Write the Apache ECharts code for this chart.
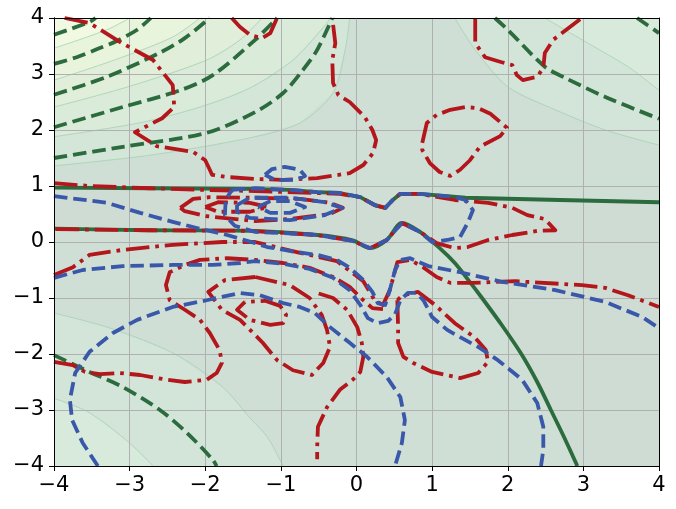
<!DOCTYPE html>
<html><head><meta charset="utf-8">
<script src="https://cdn.jsdelivr.net/npm/echarts@6/dist/echarts.min.js"></script>
<style>html,body{margin:0;padding:0;background:#fff}#c{width:676px;height:509px}</style>
</head><body><div id="c"></div>
<script>
// ---------- tick labels ----------
const xTicks = [-4,-3,-2,-1,0,1,2,3,4];
const yTicks = [-4,-3,-2,-1,0,1,2,3,4];

// ---------- green contours (solid = zero level, dashed = negative levels) ----------
const greenSolidUpper = [[-4,0.97],[-2.73,0.96],[-1.41,0.95],[-0.88,0.93],[-0.52,0.89],[-0.22,0.875],[0.05,0.80],[0.24,0.66],[0.38,0.61],[0.48,0.75],[0.58,0.86],[0.84,0.86],[1.44,0.79],[2.69,0.75],[4,0.71]];
const greenSolidLower = [[-4,0.24],[-2.73,0.21],[-1.41,0.20],[-0.52,0.125],[-0.05,0.03],[0.18,-0.11],[0.40,0.036],[0.60,0.34],[0.84,0.18],[1.10,-0.11],[1.30,-0.375],[1.48,-0.68],[1.66,-1.0],[1.93,-1.5],[2.18,-2.0],[2.39,-2.5],[2.57,-3.0],[2.75,-3.5],[2.92,-4]];
const greenDashTL1 = [[-4,3.70],[-3.53,3.93],[-3.45,4]];
const greenDashTL2 = [[-4,3.18],[-3.70,3.30],[-3.42,3.45],[-3.17,3.59],[-2.90,3.79],[-2.72,4]];
const greenDashTL3 = [[-4,2.63],[-3.30,2.95],[-2.60,3.38],[-2.27,3.64],[-1.94,4]];
const greenDashTL4 = [[-4,2.05],[-3.09,2.41],[-2.33,2.71],[-1.90,2.98],[-1.34,3.61],[-1.05,4]];
const greenDashTL5 = [[-4,1.50],[-3.09,1.70],[-1.98,1.95],[-1.34,2.32],[-0.97,2.66],[-0.71,3.07],[-0.52,3.43],[-0.32,4]];
const greenDashTR1 = [[1.83,4],[2.00,3.79],[2.49,3.13],[2.76,2.93],[3.29,2.59],[4,2.20]];
const greenDashTR2 = [[3.71,4],[4,3.73]];
const greenDashBL = [[-4,-2.02],[-3.53,-2.32],[-3.09,-2.59],[-2.60,-3.0],[-2.24,-3.41],[-1.90,-3.89],[-1.85,-4]];

// ---------- red contours ----------
const redA = [[-3.86,4],[-3.53,3.91],[-3.10,3.55],[-2.69,3.25],[-2.43,2.80],[-2.41,2.41],[-2.57,2.21],[-2.93,1.96],[-2.64,1.71],[-2.16,1.61],[-2.00,1.46],[-1.94,1.29],[-1.91,1.20],[-1.71,1.16],[-1.34,1.125],[-0.97,1.11],[-0.52,1.14],[-0.09,1.23],[0.09,1.375],[0.22,1.59],[0.26,1.82],[0.21,2.0],[0.11,2.23],[-0.09,2.5],[-0.24,2.625],[-0.31,2.84],[-0.32,3.25],[-0.28,3.55],[-0.32,4]];
const redB = [[-1.65,4],[-1.54,3.84],[-1.41,3.70],[-1.25,3.64],[-1.14,3.73],[-1.05,4]];
const redC = [[1.57,4],[1.57,3.55],[1.70,3.30],[1.92,3.21],[2.06,3.16],[2.12,2.98],[2.20,2.89],[2.39,2.95],[2.47,3.11],[2.49,3.375],[2.60,3.61],[2.98,4]];
const redD = [[0.87,1.77],[0.93,2.125],[1.06,2.27],[1.24,2.36],[1.44,2.41],[1.61,2.39],[1.77,2.29],[1.99,2.04],[1.90,1.89],[1.63,1.70],[1.50,1.46],[1.37,1.29],[1.24,1.18],[1.10,1.25],[0.97,1.41],[0.87,1.64],[0.87,1.77]];
const redE = [[-4,1.05],[-3.53,1.0],[-2.73,0.96],[-1.98,0.93],[-1.34,0.91],[-0.52,0.875],[-0.22,0.86],[0.05,0.80],[0.24,0.66],[0.38,0.61],[0.48,0.75],[0.58,0.86],[0.84,0.86],[1.30,0.75],[1.74,0.70],[2.06,0.61],[2.26,0.48],[2.49,0.41],[2.63,0.21],[2.40,0.20],[2.06,0.125],[1.74,0.036],[1.47,-0.09],[1.30,-0.11],[1.06,-0.02],[0.84,0.18],[0.60,0.34],[0.40,0.036],[0.18,-0.11],[-0.05,0.02],[-0.52,0.125],[-1.41,0.20],[-2.73,0.21],[-4,0.23]];
const redG = [[-4,-0.59],[-3.75,-0.45],[-3.53,-0.23],[-3.09,-0.14],[-2.43,-0.05],[-1.77,0.0],[-1.34,0.0],[-0.79,-0.18],[-0.26,-0.34],[0.09,-0.70],[0.24,-1.04],[0.35,-1.125],[0.44,-0.86],[0.54,-0.36],[0.71,-0.32],[0.88,-0.45],[1.06,-0.625],[1.24,-0.73],[1.53,-0.73],[2.10,-0.70],[2.98,-0.77],[3.29,-0.82],[3.59,-0.95],[4,-1.16]];
const redM = [[-4,-2.14],[-3.75,-2.20],[-3.59,-2.32],[-3.39,-2.36],[-3.13,-2.34],[-2.86,-2.375],[-2.51,-2.46],[-2.27,-2.5],[-1.98,-2.46],[-1.85,-2.34],[-1.78,-2.16],[-1.81,-1.93],[-1.94,-1.625],[-2.07,-1.39],[-2.27,-1.21],[-2.47,-1.04],[-2.52,-0.77],[-2.47,-0.54],[-2.27,-0.41],[-2.07,-0.32],[-1.71,-0.29],[-1.34,-0.32],[-0.97,-0.375],[-0.62,-0.46],[-0.31,-0.625],[-0.09,-0.80],[0.09,-1.04],[0.21,-1.18],[0.35,-1.20]];
const redN = [[-1.34,-0.625],[-1.74,-0.68],[-1.96,-0.89],[-1.78,-1.21],[-1.54,-1.39],[-1.34,-1.66],[-1.24,-1.80],[-1.05,-2.11],[-0.84,-2.29],[-0.59,-2.375],[-0.44,-2.16],[-0.35,-1.875],[-0.39,-1.57],[-0.46,-1.30],[-0.62,-1.0],[-0.88,-0.77],[-1.34,-0.625]];
const redO = [[-1.475,-1.07],[-1.58,-1.21],[-1.41,-1.39],[-1.14,-1.48],[-0.97,-1.45],[-0.93,-1.30],[-1.01,-1.14],[-1.21,-1.05],[-1.475,-1.07]];
const redK = [[-0.50,-0.92],[-0.31,-1.0],[-0.125,-1.21],[0.01,-1.52],[0.07,-1.80],[0.09,-2.05],[0.05,-2.32],[-0.05,-2.46],[-0.22,-2.64],[-0.39,-2.95],[-0.51,-3.30],[-0.52,-3.66],[-0.52,-3.88]];
const redH = [[0.54,-1.04],[0.55,-1.52],[0.55,-1.80],[0.62,-2.05],[0.75,-2.16],[1.0,-2.32],[1.37,-2.43],[1.61,-2.34],[1.74,-2.14],[1.71,-1.93],[1.57,-1.71],[1.30,-1.45],[1.04,-1.125],[0.81,-0.89],[0.60,-0.96],[0.54,-1.04]];
const redIn1 = [[-2.33,0.61],[-2.16,0.77],[-1.94,0.80],[-1.34,0.79],[-0.75,0.77],[-0.35,0.70],[-0.18,0.61],[-0.35,0.50],[-0.88,0.41],[-1.34,0.375],[-1.98,0.46],[-2.27,0.55],[-2.33,0.61]];
const redIn2 = [[-2.0,0.625],[-1.83,0.71],[-1.41,0.70],[-1.17,0.625],[-1.41,0.54],[-1.83,0.54],[-2.0,0.625]];

// ---------- blue contours ----------
const blueMain = [[-4,0.82],[-3.30,0.70],[-2.86,0.52],[-2.43,0.36],[-2.11,0.25],[-1.71,0.125],[-1.34,-0.02],[-1.18,-0.09],[-0.79,-0.18],[-0.52,-0.23],[-0.26,-0.32],[-0.09,-0.46],[0.09,-0.68],[0.21,-0.89],[0.28,-1.09],[0.38,-1.125],[0.44,-0.86],[0.51,-0.5],[0.58,-0.32],[0.71,-0.29],[0.95,-0.43],[1.37,-0.54],[1.92,-0.71],[2.63,-0.86],[3.29,-1.07],[3.78,-1.34],[4,-1.54]];
const blueB2 = [[-4,-0.64],[-3.62,-0.5],[-3.09,-0.43],[-2.43,-0.41],[-1.90,-0.41],[-1.54,-0.375],[-1.34,-0.34],[-0.97,-0.39],[-0.62,-0.48],[-0.31,-0.64],[-0.09,-0.86],[0.05,-1.125],[0.15,-1.36],[0.28,-1.45],[0.42,-1.41],[0.51,-1.29],[0.58,-1.04],[0.68,-0.91],[0.80,-0.91],[0.89,-1.05],[1.0,-1.34],[1.20,-1.57],[1.37,-1.70],[1.61,-1.875],[1.87,-2.11],[2.19,-2.46],[2.39,-2.875],[2.47,-3.30],[2.47,-3.71],[2.44,-4]];
const blueBig = [[-3.42,-4],[-3.62,-3.59],[-3.76,-3.18],[-3.79,-2.82],[-3.72,-2.34],[-3.53,-1.96],[-3.22,-1.625],[-2.90,-1.39],[-2.43,-1.16],[-1.98,-1.04],[-1.54,-0.91],[-1.28,-0.95],[-0.97,-1.09],[-0.75,-1.16],[-0.55,-1.27],[-0.35,-1.52],[-0.09,-1.80],[0.14,-2.05],[0.40,-2.41],[0.58,-2.77],[0.64,-3.18],[0.60,-3.59],[0.51,-4]];
const blueU = [[-1.65,0.93],[-1.34,0.96],[-0.88,0.93],[-0.52,0.89],[-0.22,0.875],[0.05,0.80],[0.24,0.66],[0.38,0.61],[0.48,0.75],[0.58,0.86],[0.84,0.86],[1.30,0.80],[1.44,0.75],[1.54,0.57],[1.47,0.34],[1.37,0.09],[1.20,0.036],[1.0,0.0],[0.84,0.18],[0.60,0.34],[0.40,0.036],[0.18,-0.11],[-0.05,0.02],[-0.52,0.125],[-0.97,0.16],[-1.34,0.18],[-1.61,0.29],[-1.74,0.48],[-1.73,0.75],[-1.65,0.93]];
const blueIn1 = [[-1.58,0.66],[-1.41,0.79],[-0.88,0.79],[-0.42,0.71],[-0.19,0.61],[-0.42,0.48],[-0.88,0.39],[-1.41,0.43],[-1.58,0.54],[-1.58,0.66]];
const blueIn2 = [[-1.30,0.625],[-1.14,0.73],[-0.88,0.73],[-0.68,0.625],[-0.88,0.52],[-1.14,0.52],[-1.30,0.625]];
const blueTop = [[-1.21,1.20],[-1.12,1.30],[-0.95,1.34],[-0.75,1.29],[-0.68,1.18],[-0.81,1.11],[-1.08,1.11],[-1.21,1.20]];

// ---------- background band edges ----------
const thinTLa = [[-4,1.36],[-2.73,1.55],[-1.41,1.86],[-0.75,2.125],[-0.31,2.66],[-0.15,3.43],[-0.09,4]];
const thinTLb = [[-4,1.88],[-2.86,2.13],[-2.07,2.41],[-1.41,2.75],[-0.84,3.25],[-0.39,3.91],[-0.35,4]];
const thinTLc = [[-4,2.41],[-3.0,2.78],[-1.98,3.25],[-1.54,3.61],[-1.25,4]];
const thinTLd = [[-4,2.89],[-3.2,3.25],[-2.43,3.66],[-2.07,4]];
const thinTLe = [[-4,3.46],[-3.30,3.79],[-3.0,4]];
const thinBL1 = [[-4,-1.27],[-3.30,-1.52],[-2.43,-1.98],[-1.77,-2.59],[-1.41,-3.14],[-1.18,-3.48],[-0.97,-4]];
const thinBL2 = [[-4,-2.79],[-3.53,-3.05],[-3.0,-3.59],[-2.69,-4]];
const thinTR1 = [[1.30,4],[1.57,3.43],[2.00,2.77],[2.63,2.36],[3.29,2.0],[4,1.73]];
const thinTR2 = [[2.49,4],[3.06,3.55],[3.59,3.13],[4,2.71]];

// ---------- build fills ----------
const GREEN = '#2b6b3d', RED = '#b3161b', BLUE = '#3a58aa', THIN = '#a6d2b1';
const fills = [
  {pts: greenSolidUpper.concat([[4,-4]], greenSolidLower.slice().reverse()), color:'#cedcd4'},
  {pts: thinTLa.concat([[-4,4]]), color:'#d4e6d8'},
  {pts: thinTLb.concat([[-4,4]]), color:'#daebd9'},
  {pts: thinTLc.concat([[-4,4]]), color:'#e1efda'},
  {pts: thinTLd.concat([[-4,4]]), color:'#e9f4dc'},
  {pts: thinTLe.concat([[-4,4]]), color:'#f2f9e2'},
  {pts: thinBL1.concat([[-4,-4]]), color:'#d3e5d8'},
  {pts: thinBL2.concat([[-4,-4]]), color:'#d8eadb'},
  {pts: thinTR1.concat([[4,4]]), color:'#d3e5d8'},
  {pts: thinTR2.concat([[4,4]]), color:'#d8eadb'}
];

function ln(data, color, type, width, z, smooth) {
  return {type:'line', data, symbol:'none', showSymbol:false, smooth: smooth||false, clip:true,
    lineStyle:{color, width, type, cap:'butt', join:'round'}, z, silent:true, animation:false,
    xAxisIndex:0, yAxisIndex:0};
}
const LW = 3.8;
const DASH = [13.5, 5.9], DASHDOT = [23.5, 5.9, 3.7, 5.9];
const series = [];
series.push({type:'custom', coordinateSystem:'cartesian2d', xAxisIndex:0, yAxisIndex:0,
  data: fills.map((f,i)=>[0,0,i]), clip:true, z:0, silent:true, animation:false,
  renderItem:(params, api)=>{
    const f = fills[api.value(2)];
    return {type:'polygon', shape:{points:f.pts.map(p=>api.coord(p))}, style:{fill:f.color}};
  }});
[thinTLa,thinTLb,thinTLc,thinTLd,thinTLe,thinBL1,thinBL2,thinTR1,thinTR2].forEach(d=>series.push(ln(d, THIN, 'solid', 0.8, 0.5, 0.3)));
series.push(ln(greenSolidUpper, GREEN, 'solid', LW, 2, false));
series.push(ln(greenSolidLower, GREEN, 'solid', LW, 2, 0.3));
[greenDashTL1,greenDashTL2,greenDashTL3,greenDashTL4,greenDashTL5,greenDashTR1,greenDashTR2,greenDashBL].forEach(d=>series.push(ln(d, GREEN, DASH, LW, 2, 0.3)));
[redA,redB,redC,redD,redE,redG,redM,redN,redO,redK,redH,redIn1,redIn2].forEach(d=>series.push(ln(d, RED, DASHDOT, LW, 3, false)));
[blueMain,blueB2,blueBig,blueU,blueIn1,blueIn2,blueTop].forEach(d=>series.push(ln(d, BLUE, DASH, LW, 4, false)));

const fmt = v => String(v).replace('-', '\u2212');
function mainAxis(ticks, pos, isX) {
  return {type:'value', position:pos, min:ticks[0], max:ticks[ticks.length-1], interval:1, z:1,
    axisLine:{show:true, onZero:false, lineStyle:{color:'#000', width:1}},
    axisTick:{show:true, inside:false, length:5, lineStyle:{color:'#000', width:1}},
    axisLabel:{fontSize:21, color:'#000', fontFamily:'DejaVu Sans', margin: isX ? 9 : 10, formatter: fmt},
    splitLine:{show:true, lineStyle:{color:'#b0b0b0', width:1}}};
}
function spine(ticks, pos) {
  return {type:'value', position:pos, min:ticks[0], max:ticks[ticks.length-1], interval:1, z:10,
    axisLine:{show:true, onZero:false, lineStyle:{color:'#000', width:1}},
    axisTick:{show:false}, axisLabel:{show:false}, splitLine:{show:false}};
}
const chart = echarts.init(document.getElementById('c'), null, {renderer:'canvas'});
chart.setOption({
  animation:false,
  backgroundColor:'#ffffff',
  grid:{left:54, top:18, width:605, height:448, show:true, backgroundColor:'#cfdfd6', borderWidth:0, containLabel:false, outerBoundsMode:'none'},
  xAxis:[mainAxis(xTicks,'bottom',true), spine(xTicks,'top'), spine(xTicks,'bottom')],
  yAxis:[mainAxis(yTicks,'left',false), spine(yTicks,'right'), spine(yTicks,'left')],
  series
});
</script></body></html>
